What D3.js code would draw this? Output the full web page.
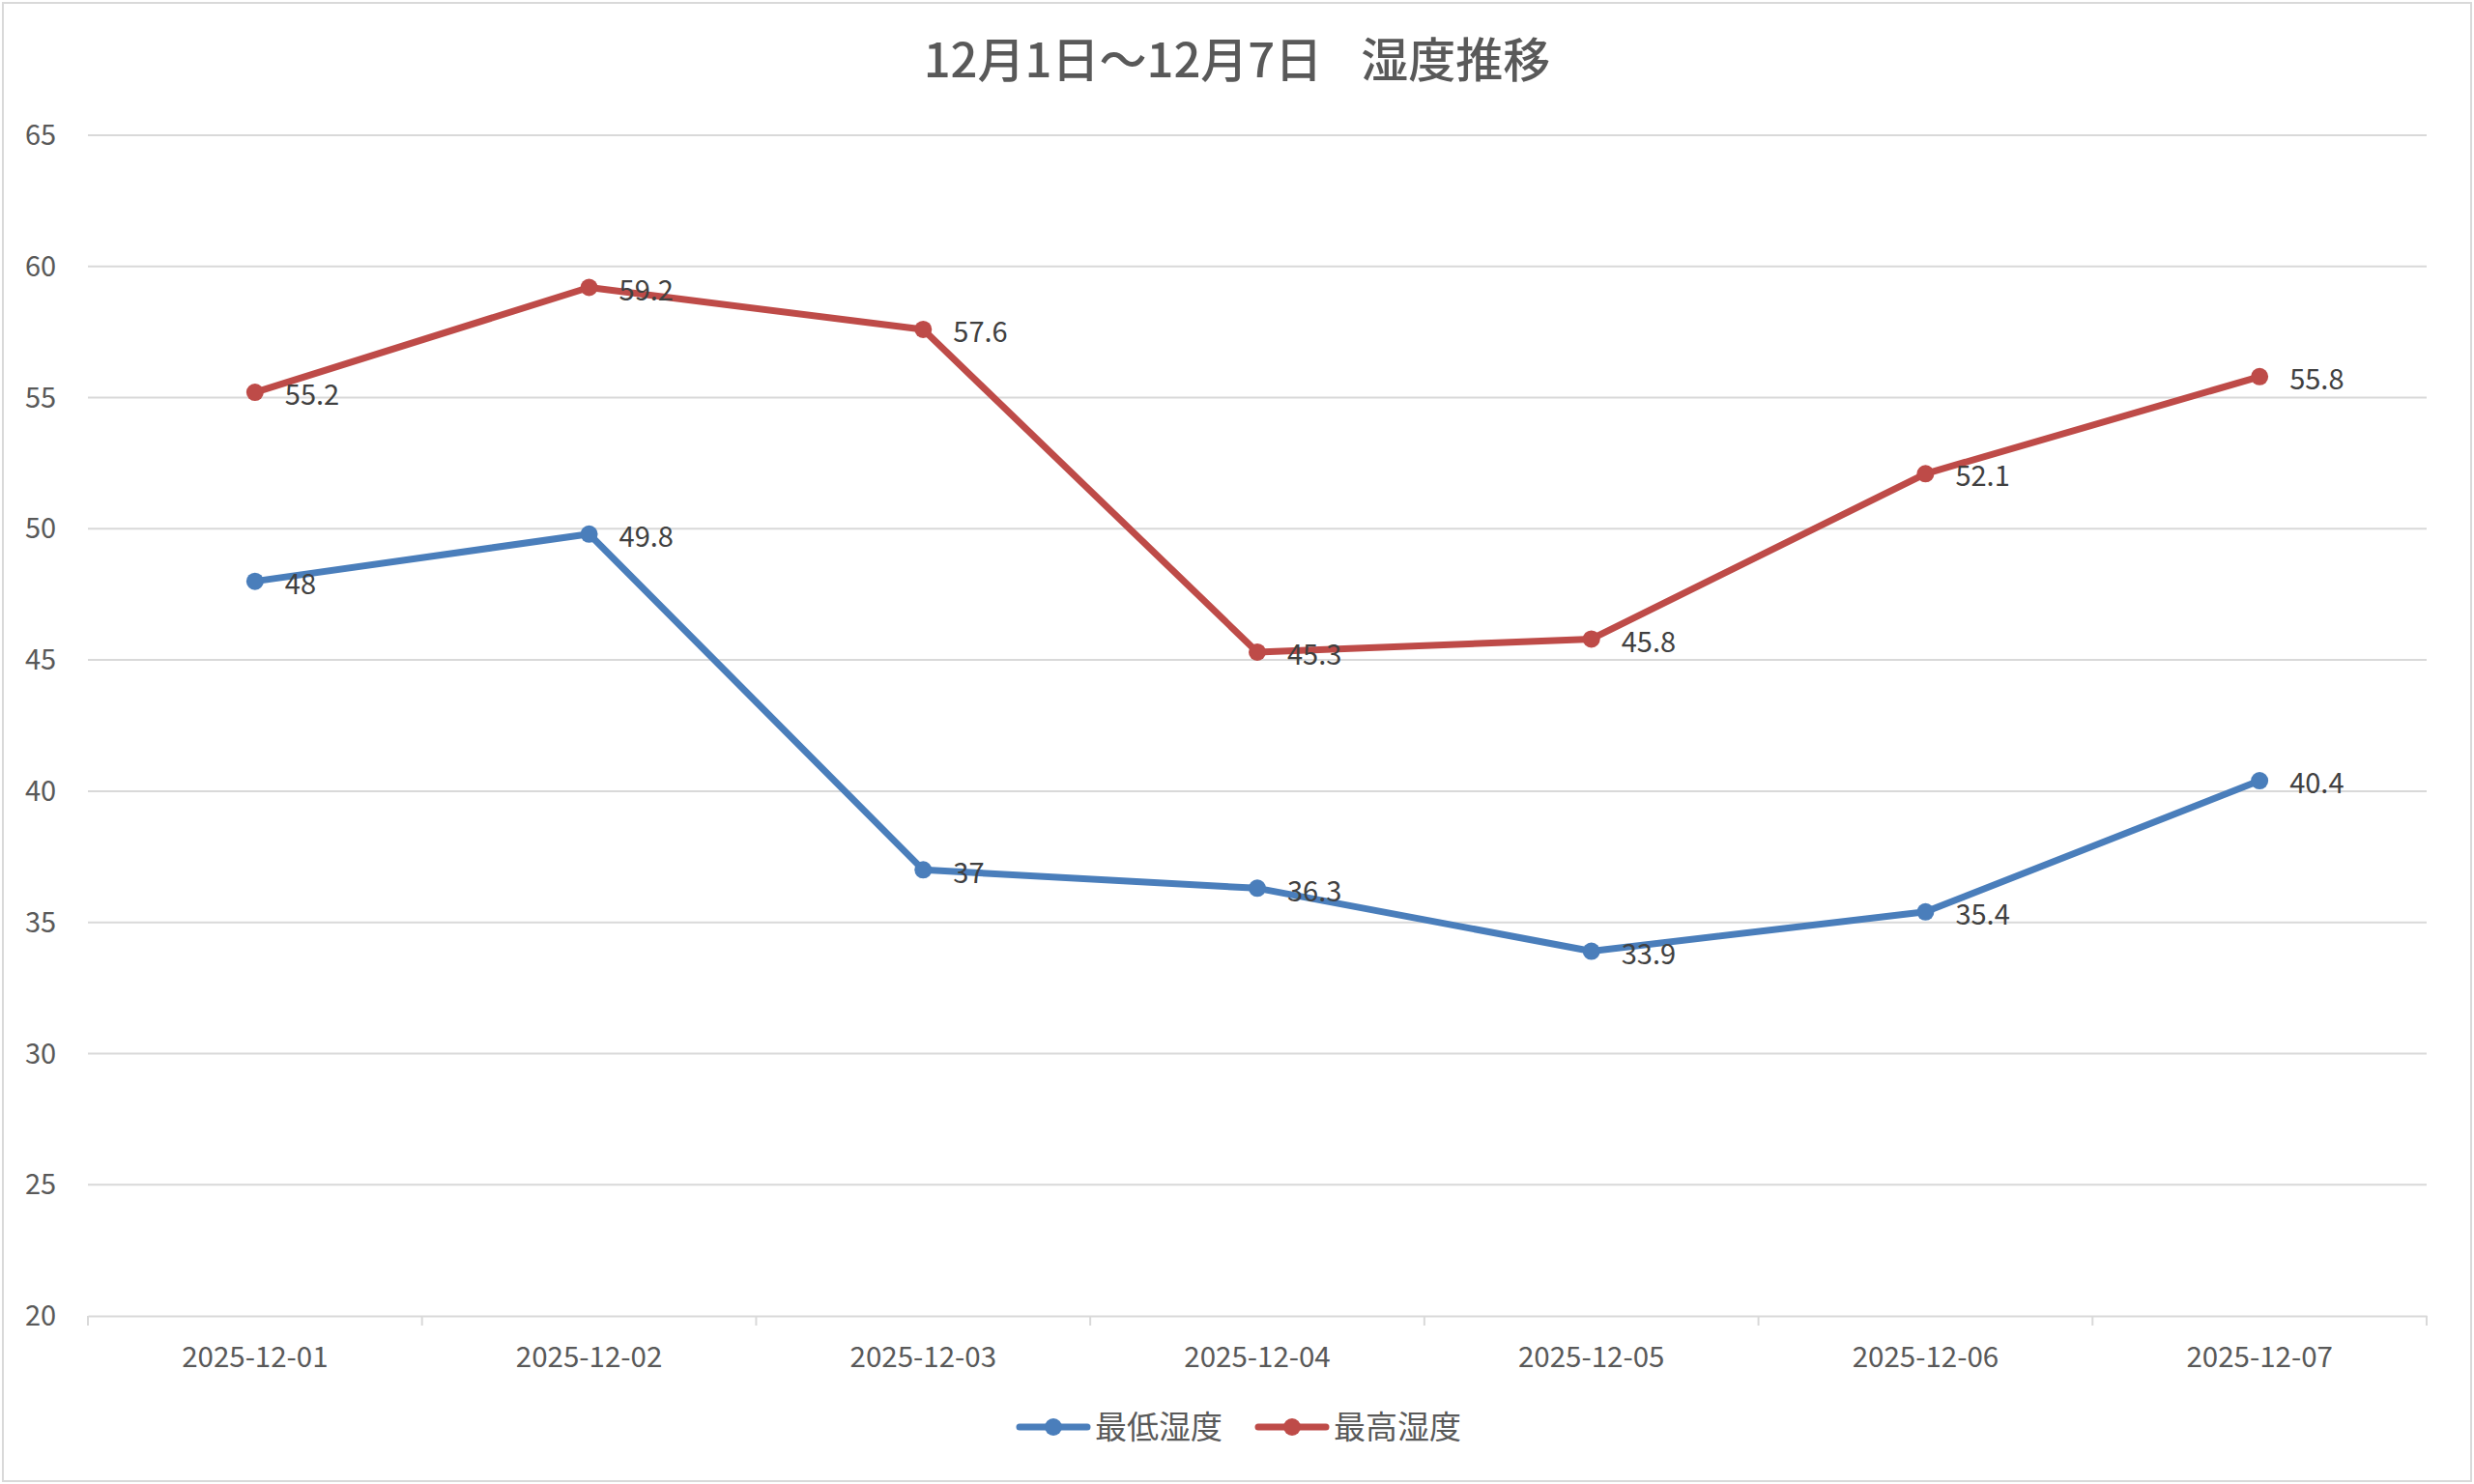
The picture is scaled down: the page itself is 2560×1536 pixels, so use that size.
<!DOCTYPE html>
<html><head><meta charset="utf-8">
<script src="https://cdn.jsdelivr.net/npm/d3@7"></script>
<style>html,body{margin:0;padding:0;background:#fff;}svg{display:block;}</style>
</head><body>
<script>
const titleParts = ["12月1日～12月7日", "湿度推移"];
const categories = ["2025-12-01","2025-12-02","2025-12-03","2025-12-04","2025-12-05","2025-12-06","2025-12-07"];
const seriesNames = ["最低湿度","最高湿度"];
const minHumidity = [48, 49.8, 37, 36.3, 33.9, 35.4, 40.4];
const maxHumidity = [55.2, 59.2, 57.6, 45.3, 45.8, 52.1, 55.8];
const yTicks = [20,25,30,35,40,45,50,55,60,65];
const colors = ["#4A7EBB","#BE4B48"];

const W = 2560, H = 1536;
const m = {left: 91, right: 49, top: 140, bottom: 174};
const font = "'Noto Sans CJK JP', 'Noto Sans', sans-serif";
const svg = d3.select("body").append("svg").attr("width", W).attr("height", H);
svg.append("rect").attr("x",3).attr("y",3).attr("width",W-6).attr("height",H-6)
  .attr("fill","#fff").attr("stroke","#d9d9d9").attr("stroke-width",2);

const x = d3.scaleBand().domain(categories).range([m.left, W - m.right]);
const y = d3.scaleLinear().domain([20,65]).range([H - m.bottom, m.top]);

// gridlines
svg.append("g").selectAll("line").data(yTicks.filter(t=>t>20)).join("line")
  .attr("x1", m.left).attr("x2", W - m.right)
  .attr("y1", d=>y(d)).attr("y2", d=>y(d))
  .attr("stroke","#d9d9d9").attr("stroke-width",2);

// y labels
svg.append("g").selectAll("text").data(yTicks).join("text")
  .attr("x", 42).attr("y", d=>y(d)).attr("dy","0.35em")
  .attr("text-anchor","middle").attr("font-family",font).attr("font-size",29)
  .attr("fill","#595959").text(d=>d);

// x axis
const xAxis = d3.axisBottom(x).tickSize(0).tickPadding(32);
const gx = svg.append("g").attr("transform",`translate(0,${y(20)})`).call(xAxis);
gx.select(".domain").attr("stroke","#d9d9d9").attr("stroke-width",2);
gx.selectAll("text").attr("font-family",font).attr("font-size",29.5).attr("fill","#595959");
const edges = categories.map(c=>x(c)).concat([W - m.right]);
svg.append("g").selectAll("line").data(edges).join("line")
  .attr("x1",d=>d).attr("x2",d=>d).attr("y1",y(20)).attr("y2",y(20)+10)
  .attr("stroke","#d9d9d9").attr("stroke-width",2);

// title
const t = svg.append("text").attr("x", W/2).attr("y", 80).attr("text-anchor","middle")
  .attr("font-family",font).attr("font-size",49).attr("font-weight",500).attr("fill","#595959");
t.append("tspan").text(titleParts[0]);
t.append("tspan").attr("dx",40).text(titleParts[1]);

const cx = c => x(c) + x.bandwidth()/2;
const series = [minHumidity, maxHumidity];
series.forEach((vals,i)=>{
  const pts = categories.map((c,j)=>({c, v: vals[j]}));
  const line = d3.line().x(d=>cx(d.c)).y(d=>y(d.v));
  svg.append("path").datum(pts).attr("d",line).attr("fill","none")
    .attr("stroke",colors[i]).attr("stroke-width",7).attr("stroke-linejoin","round").attr("stroke-linecap","round");
  svg.append("g").selectAll("circle").data(pts).join("circle")
    .attr("cx",d=>cx(d.c)).attr("cy",d=>y(d.v)).attr("r",9).attr("fill",colors[i]);
  svg.append("g").selectAll("text").data(pts).join("text")
    .attr("x",d=>cx(d.c)+31).attr("y",d=>y(d.v)+3).attr("dy","0.35em")
    .attr("font-family",font).attr("font-size",29).attr("fill","#404040").text(d=>d.v);
});

// legend
const legendItems = [{x:1055, name: seriesNames[0], color: colors[0]},{x:1302, name: seriesNames[1], color: colors[1]}];
const lg = svg.append("g");
legendItems.forEach(it=>{
  const ly = 1477;
  lg.append("line").attr("x1",it.x).attr("x2",it.x+70).attr("y1",ly).attr("y2",ly)
    .attr("stroke",it.color).attr("stroke-width",7).attr("stroke-linecap","round");
  lg.append("circle").attr("cx",it.x+35).attr("cy",ly).attr("r",9).attr("fill",it.color);
  lg.append("text").attr("x",it.x+78).attr("y",ly).attr("dy","0.35em")
    .attr("font-family",font).attr("font-size",33).attr("fill","#595959").text(it.name);
});
</script>
</body></html>
